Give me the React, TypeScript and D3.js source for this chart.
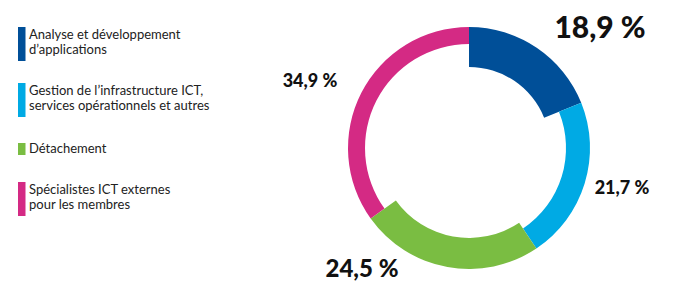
import React from "react";
import * as d3 from "d3";

const categories = [
  "Analyse et développement|d’applications",
  "Gestion de l’infrastructure ICT,|services opérationnels et autres",
  "Détachement",
  "Spécialistes ICT externes|pour les membres",
];
const values = [18.9, 21.7, 24.5, 34.9];
const valueLabels = ["18,9 %", "21,7 %", "24,5 %", "34,9 %"];
const colors = ["#004f98", "#00aae4", "#7abd42", "#d42a84"];
const thickness = [40, 24, 31, 17];
const labelStyle = [
  { dx: 131, dy: -110, size: 30 },
  { dx: 153, dy: 46, size: 18 },
  { dx: -107, dy: 129, size: 24 },
  { dx: -159, dy: -61, size: 18 },
];
const legendTop = [27, 83, 143, 182];

const W = 678;
const H = 303;
const cx = 469;
const cy = 148;
const outerR = 121;

export default function App() {
  const pie = d3.pie<number>().sort(null).value((d) => d);
  const arcs = pie(values);
  const font = "Lato, 'Open Sans', sans-serif";
  return (
    <svg width={W} height={H} style={{ position: "absolute", left: 0, top: 0, background: "#fff" }}>
      <g transform={`translate(${cx},${cy})`}>
        {arcs.map((a, i) => {
          const arcGen = d3.arc<d3.PieArcDatum<number>>()
            .innerRadius(outerR - thickness[i])
            .outerRadius(outerR);
          return <path key={i} d={arcGen(a) || ""} fill={colors[i]} />;
        })}
        {valueLabels.map((t, i) => (
          <text
            key={i}
            x={labelStyle[i].dx}
            y={labelStyle[i].dy}
            textAnchor="middle"
            fontFamily={font}
            fontWeight={900}
            fontSize={labelStyle[i].size}
            fill="#111"
          >
            {t}
          </text>
        ))}
      </g>
      {categories.map((c, i) => {
        const lines = c.split("|");
        const barH = lines.length === 2 ? 34 : 12;
        return (
          <g key={i}>
            <rect x={18} y={legendTop[i]} width={7.5} height={barH} fill={colors[i]} />
            {lines.map((l, j) => (
              <text
                key={j}
                x={29}
                y={legendTop[i] + (lines.length === 2 ? 11.5 + j * 15.5 : 9.5)}
                fontFamily={font}
                fontSize={13}
                fill="#222"
              >
                {l}
              </text>
            ))}
          </g>
        );
      })}
    </svg>
  );
}
